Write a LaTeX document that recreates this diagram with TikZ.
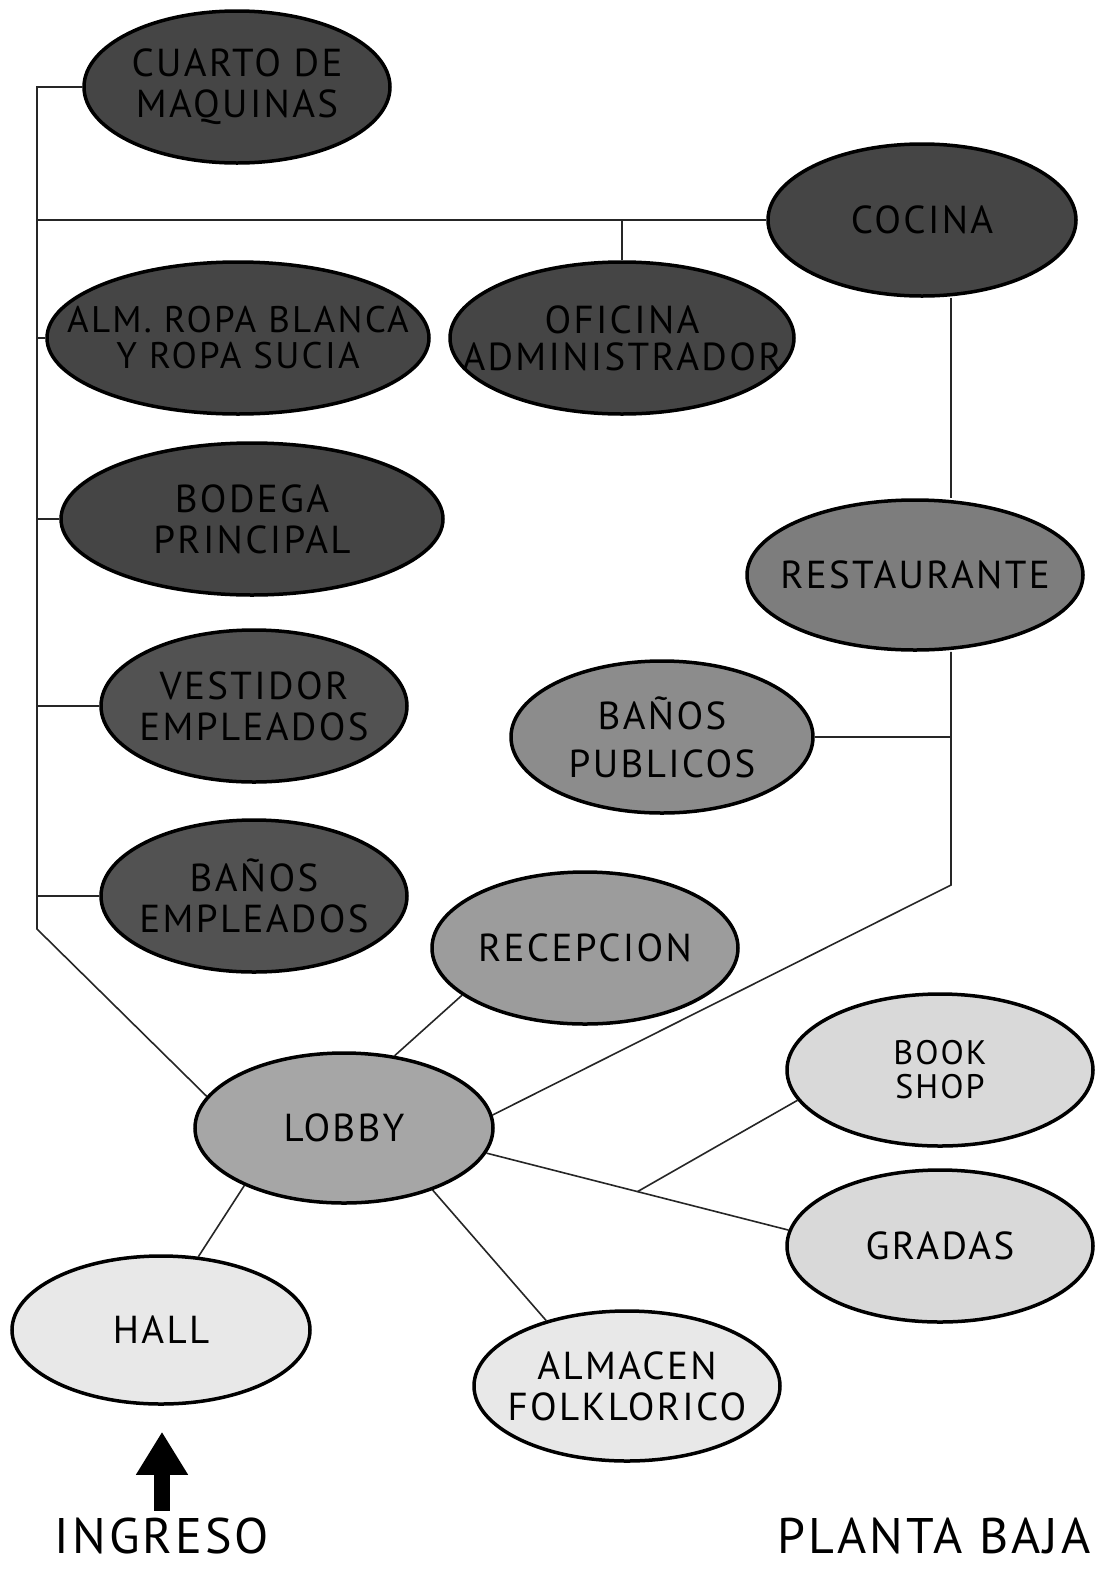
\documentclass[tikz,border=0pt]{standalone}
\usepackage{fontspec}
\setmainfont[LetterSpace=6]{PT Sans}
\usetikzlibrary{shapes.geometric,arrows.meta,backgrounds}

\definecolor{tonoA}{gray}{0.27}
\definecolor{tonoB}{gray}{0.32}
\definecolor{tonoC}{gray}{0.49}
\definecolor{tonoD}{gray}{0.55}
\definecolor{tonoE}{gray}{0.61}
\definecolor{tonoF}{gray}{0.65}
\definecolor{tonoG}{gray}{0.85}
\definecolor{tonoH}{gray}{0.91}

\tikzset{
	espacio/.style={ellipse, draw=black, line width=3.5pt, inner sep=0pt, minimum width=306pt, minimum height=152pt},
	rotulo/.style={font=\fontsize{39}{41}\selectfont, align=center, inner sep=0pt},
	enlace/.style={line width=1.6pt, draw=black!85},
	flecha/.style={line width=16pt, -{Triangle[width=49pt,length=43pt]}, shorten <=7pt, shorten >=26pt},
	titulo/.style={font=\fontsize{50}{50}\selectfont, inner sep=0pt},
}

\begin{document}
\begin{tikzpicture}[x=1pt, y=-1pt]
			%%%%% START %%%%%
			
			\useasboundingbox (0, 0) rectangle (1113, 1572);
			
			% zona de servicio
			\node[espacio, fill=tonoA, label={[rotulo]center:CUARTO DE\\MAQUINAS}] (maquinas) at (237, 87) {};
			\node[espacio, fill=tonoA, minimum width=308pt, label={[rotulo]center:COCINA}] (cocina) at (922, 220) {};
			\node[espacio, fill=tonoA, minimum width=382pt, label={[rotulo, font=\fontsize{37}{36}\selectfont]center:ALM. ROPA BLANCA\\Y ROPA SUCIA}] (ropa) at (238, 338) {};
			\node[espacio, fill=tonoA, minimum width=344pt, label={[rotulo, font=\fontsize{39}{37}\selectfont]center:OFICINA\\ADMINISTRADOR}] (oficina) at (622, 338) {};
			\node[espacio, fill=tonoA, minimum width=382pt, label={[rotulo]center:BODEGA\\PRINCIPAL}] (bodega) at (252, 519) {};
			\node[espacio, fill=tonoB, label={[rotulo]center:VESTIDOR\\EMPLEADOS}] (vestidor) at (254, 706) {};
			\node[espacio, fill=tonoB, label={[rotulo]center:BAÑOS\\EMPLEADOS}] (banosemp) at (254, 896) {};
			
			% zona publica
			\node[espacio, fill=tonoC, minimum width=336pt, minimum height=150pt, label={[rotulo]center:RESTAURANTE}] (restaurante) at (915, 575) {};
			\node[espacio, fill=tonoD, minimum width=302pt, label={[rotulo, font=\fontsize{39}{48}\selectfont]center:BAÑOS\\PUBLICOS}] (banospub) at (662, 737) {};
			\node[espacio, fill=tonoE, label={[rotulo]center:RECEPCION}] (recepcion) at (585, 948) {};
			\node[espacio, fill=tonoF, minimum width=298pt, minimum height=150pt, label={[rotulo]center:LOBBY}] (lobby) at (344, 1128) {};
			\node[espacio, fill=tonoG, label={[rotulo, font=\fontsize{34}{34}\selectfont]center:BOOK\\SHOP}] (bookshop) at (940, 1070) {};
			\node[espacio, fill=tonoG, label={[rotulo]center:GRADAS}] (gradas) at (940, 1246) {};
			\node[espacio, fill=tonoH, minimum width=298pt, minimum height=148pt, label={[rotulo]center:HALL}] (hall) at (161, 1330) {};
			\node[espacio, fill=tonoH, minimum height=150pt, label={[rotulo]center:ALMACEN\\FOLKLORICO}] (almacen) at (627, 1386) {};
			
			\coordinate (espina) at (37, 929);
			\coordinate (rincon) at (951, 885);
			
			\node[titulo] (ingreso) at (162, 1536) {INGRESO};
			\node[titulo] (planta) at (934, 1536) {PLANTA BAJA};
			
			\begin{scope}[on background layer]
				\fill[white] (0, 0) rectangle (1113, 1572);
				
				\draw[enlace] (maquinas.west) -| (espina) -- (lobby.167);
				\draw[enlace] (cocina.west) -- (cocina.west -| espina);
				\draw[enlace] (oficina.north) -- (oficina.north |- cocina.west);
				\draw[enlace] (ropa.west) -- (ropa.west -| espina);
				\draw[enlace] (bodega.west) -- (bodega.west -| espina);
				\draw[enlace] (vestidor.west) -- (vestidor.west -| espina);
				\draw[enlace] (banosemp.west) -- (banosemp.west -| espina);
				
				\draw[enlace] (cocina.south -| rincon) -- (restaurante.north -| rincon);
				\draw[enlace] (restaurante.south -| rincon) -- (rincon) -- (lobby.5);
				\draw[enlace] (banospub.east) -- (banospub.east -| rincon);
				
				\draw[enlace] (recepcion.201) -- (lobby.55);
				\draw[enlace] (lobby.210) -- (hall.63);
				\draw[enlace] (lobby.325) -- (almacen.141);
				\draw[enlace] (lobby.350) -- coordinate[pos=0.5] (cruce) (gradas.174);
				\draw[enlace] (bookshop.192) -- (cruce);
			\end{scope}
			
			\draw[flecha] (ingreso.north) -- (ingreso.north |- hall.south);
			
			%%%%% END %%%%%
\end{tikzpicture}
\end{document}
